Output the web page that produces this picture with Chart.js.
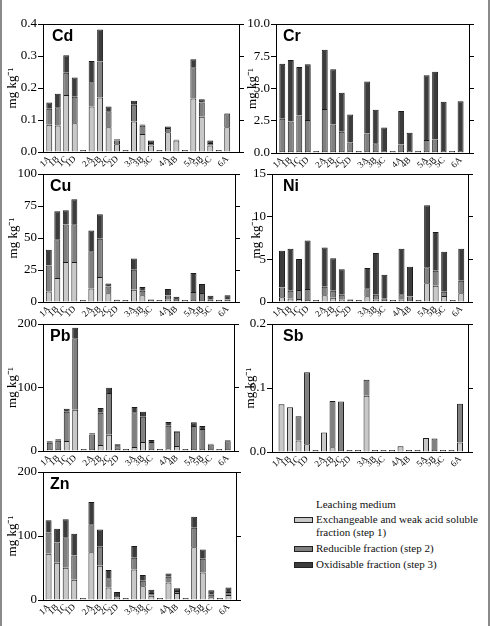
<!DOCTYPE html>
<html>
<head>
<meta charset="utf-8">
<title>Leaching fractions</title>
<script src="https://cdn.jsdelivr.net/npm/chart.js@4.4.1/dist/chart.umd.min.js"></script>
<style>
  html, body { margin: 0; padding: 0; background: #fff; }
  body { width: 491px; height: 626px; position: relative; overflow: hidden;
         font-family: "Liberation Serif", "Times New Roman", serif; color: #111; }
  .panel { position: absolute; }
  .edge { position: absolute; top: 0; bottom: 0; width: 2px; background: #8a8a8a; }
  #legend { position: absolute; left: 294px; top: 498px; font-size: 11px; line-height: 13px; }
  .lg-head { margin-left: 22px; }
  .lg-row { display: flex; align-items: flex-start; margin-top: 2px; }
  .lg-row + .lg-row { margin-top: 3px; }
  .sw { width: 17px; height: 4px; border: 1px solid #222; margin: 4px 3px 0 0; flex: none; }
  .lg-text { width: 168px; }
</style>
</head>
<body>
<div class="edge" style="left:0"></div>
<div class="edge" style="left:488px"></div>
<div id="legend"></div>

<script>
'use strict';

/* ===== Data ===== */
// sampling sites; empty strings are the spacer slots between the groups
const SITES = ['1A', '1B', '1C', '1D', '', '2A', '2B', '2C', '2D', '', '3A', '3B', '3C', '',
               '4A', '4B', '', '5A', '5B', '5C', '', '6A'];
const LEGEND_TITLE = 'Leaching medium';
const FRACTIONS = [
  'Exchangeable and weak acid soluble fraction (step 1)',
  'Reducible fraction (step 2)',
  'Oxidisable fraction (step 3)'
];
const UNIT = 'mg kg\u207B\u00B9';

const CD_STEP1 = [0.085, 0.083, 0.178, 0.090, 0, 0.142, 0.170, 0.077, 0.024, 0, 0.095, 0.056, 0.020, 0, 0.062, 0.036, 0, 0.167, 0.110, 0.020, 0, 0.077];
const CD_STEP2 = [0.050, 0.057, 0.070, 0.083, 0, 0.076, 0.113, 0.050, 0.012, 0, 0.053, 0.026, 0.008, 0, 0.013, 0.002, 0, 0.098, 0.045, 0.008, 0, 0.043];
const CD_STEP3 = [0.020, 0.042, 0.054, 0.060, 0, 0.066, 0.100, 0.015, 0.004, 0, 0.012, 0.004, 0.008, 0, 0.005, 0.001, 0, 0.025, 0.010, 0.008, 0, 0.001];

const CR_STEP1 = [0, 0, 0, 0, 0, 0, 0, 0, 0, 0, 0, 0, 0, 0, 0, 0, 0, 0, 0, 0, 0, 0];
const CR_STEP2 = [2.50, 2.28, 2.75, 2.40, 0, 3.25, 2.05, 1.50, 0.65, 0, 1.35, 0.60, 0, 0, 0.50, 0, 0, 0.85, 0.90, 0, 0, 0];
const CR_STEP3 = [4.27, 4.77, 3.77, 4.32, 0, 4.60, 4.28, 3.02, 2.17, 0, 4.03, 2.60, 1.82, 0, 2.60, 1.42, 0, 5.03, 5.25, 3.82, 0, 3.85];

const CU_STEP1 = [8.3, 18.7, 31.2, 31.2, 0, 10.6, 19.5, 6.8, 1.6, 0, 9.6, 5.2, 1.5, 0, 1.8, 0.5, 0, 1.5, 1.3, 0.3, 0, 0.2];
const CU_STEP2 = [20.3, 30.4, 29.3, 29.6, 0, 29.1, 29.9, 5.4, 0.1, 0, 15.6, 3.6, 0.3, 0, 3.2, 0.8, 0, 6.3, 5.5, 0.5, 0, 0.3];
const CU_STEP3 = [12.2, 21.8, 11.2, 19.5, 0, 16.1, 19.2, 2.3, 0.1, 0, 8.8, 2.9, 0.3, 0, 5.1, 1.8, 0, 14.8, 7.0, 2.8, 0, 3.4];

const NI_STEP1 = [0.55, 0.40, 0.35, 0.23, 0, 0.78, 0.50, 0.27, 0.02, 0, 0.66, 0.27, 0.20, 0, 0.27, 0.20, 0, 2.19, 1.91, 0.70, 0, 1.02];
const NI_STEP2 = [1.15, 0.93, 1.05, 1.29, 0, 1.02, 0.83, 0.59, 0.02, 0, 0.94, 0.59, 0.15, 0, 0.63, 0.40, 0, 1.87, 1.76, 0.51, 0, 1.48];
const NI_STEP3 = [4.30, 4.92, 3.64, 5.67, 0, 4.60, 3.79, 2.97, 0.08, 0, 2.38, 4.88, 2.81, 0, 5.35, 3.50, 0, 7.27, 4.53, 4.69, 0, 3.75];

const PB_STEP1 = [1.0, 2.0, 15.7, 65.1, 0, 2.0, 9.4, 25.7, 2.0, 0, 6.3, 14.2, 1.0, 0, 4.2, 7.9, 0, 1.0, 1.0, 0.5, 0, 0.5];
const PB_STEP2 = [10.0, 13.0, 46.3, 112.3, 0, 22.7, 51.0, 65.6, 4.4, 0, 54.6, 39.8, 11.0, 0, 35.7, 22.5, 0, 36.3, 31.5, 7.0, 0, 12.2];
const PB_STEP3 = [2.1, 2.3, 4.7, 16.8, 0, 2.1, 7.3, 8.4, 3.0, 0, 8.4, 8.0, 3.2, 0, 5.8, 1.1, 0, 5.7, 4.8, 1.4, 0, 1.5];

const SB_STEP1 = [0.0745, 0.0700, 0.0180, 0.0120, 0, 0.0306, 0.0073, 0, 0, 0, 0.0878, 0, 0, 0, 0.0088, 0, 0, 0.0218, 0, 0, 0, 0.0150];
const SB_STEP2 = [0, 0, 0.0380, 0.1127, 0, 0, 0.0722, 0.0758, 0, 0, 0.0249, 0, 0, 0, 0, 0, 0, 0, 0.0180, 0, 0, 0.0603];
const SB_STEP3 = [0, 0, 0, 0, 0, 0, 0, 0, 0, 0, 0, 0, 0, 0, 0, 0, 0, 0, 0, 0, 0, 0];

const ZN_STEP1 = [72.2, 58.2, 50.4, 31.7, 0, 74.8, 53.5, 19.7, 3.6, 0, 47.8, 21.3, 6.8, 0, 27.5, 10.9, 0, 82.6, 43.1, 4.2, 0, 7.8];
const ZN_STEP2 = [33.3, 31.7, 47.8, 37.9, 0, 43.6, 29.6, 14.1, 2.6, 0, 18.2, 8.8, 4.1, 0, 8.9, 3.1, 0, 30.1, 21.3, 4.1, 0, 4.7];
const ZN_STEP3 = [19.2, 21.3, 28.0, 33.8, 0, 34.8, 27.0, 13.0, 6.3, 0, 18.2, 8.9, 5.2, 0, 5.2, 4.2, 0, 17.2, 14.6, 6.8, 0, 7.2];

/* ===== Look ===== */
const COLORS = ['#c8c8c8', '#808080', '#3c3c3c'];
const PAD_TOP = 10;
const X_H = 26;
const RIGHT_W = 8;

// left = canvas left edge, L/R/T/B = plot box, x range in slot units
const PANELS = [
  { name: 'Cd', data: [CD_STEP1, CD_STEP2, CD_STEP3], max: 0.4, step: 0.1, digits: 1, left: 5,   L: 43,  R: 239, T: 24,  B: 152, xMin: -0.74, xMax: 22.39, dx: 9 },
  { name: 'Cr', data: [CR_STEP1, CR_STEP2, CR_STEP3], max: 10,  step: 2.5, digits: 1, left: 245, L: 276, R: 469, T: 24,  B: 153, xMin: -0.74, xMax: 21.99, dx: 7 },
  { name: 'Cu', data: [CU_STEP1, CU_STEP2, CU_STEP3], max: 100, step: 25,  digits: 0, left: 6,   L: 43,  R: 235, T: 174, B: 302, xMin: -0.68, xMax: 21.88, dx: 7 },
  { name: 'Ni', data: [NI_STEP1, NI_STEP2, NI_STEP3], max: 15,  step: 5,   digits: 0, left: 249, L: 272, R: 468, T: 174, B: 302, xMin: -1.17, xMax: 21.79, dx: 11 },
  { name: 'Pb', data: [PB_STEP1, PB_STEP2, PB_STEP3], max: 200, step: 100, digits: 0, left: 5,   L: 43,  R: 234, T: 324, B: 451, xMin: -0.80, xMax: 21.74, dx: 7 },
  { name: 'Sb', data: [SB_STEP1, SB_STEP2, SB_STEP3], max: 0.2, step: 0.1, digits: 1, left: 243, L: 272, R: 468, T: 324, B: 452, xMin: -1.12, xMax: 21.94, dx: 11 },
  { name: 'Zn', data: [ZN_STEP1, ZN_STEP2, ZN_STEP3], max: 200, step: 100, digits: 0, left: 5,   L: 43,  R: 236, T: 472, B: 600, xMin: -0.65, xMax: 21.88, dx: 7 }
];

Chart.defaults.font.family = '"Liberation Serif", "Times New Roman", serif';
Chart.defaults.font.size = 13;
Chart.defaults.color = '#000';

/* ===== Plot frame: top border + element name ===== */
const panelFrame = {
  id: 'panelFrame',
  afterDatasetsDraw(chart, args, opts) {
    const { ctx, chartArea: a } = chart;
    ctx.save();
    ctx.strokeStyle = '#000';
    ctx.lineWidth = 1;
    ctx.beginPath();
    ctx.moveTo(a.left, Math.round(a.top) + 0.5);
    ctx.lineTo(a.right, Math.round(a.top) + 0.5);
    ctx.stroke();
    ctx.fillStyle = '#000';
    ctx.font = 'bold 16px "Liberation Sans", Arial, sans-serif';
    ctx.textBaseline = 'alphabetic';
    ctx.fillText(opts.text, a.left + opts.dx, a.top + 17);
    ctx.restore();
  }
};

function makePanel(p) {
  const top = p.T - PAD_TOP;
  const width = p.R + RIGHT_W - p.left;
  const height = p.B + X_H - top;
  const yW = p.L - p.left;

  const box = document.createElement('div');
  box.className = 'panel';
  box.style.left = p.left + 'px';
  box.style.top = top + 'px';
  box.style.width = width + 'px';
  box.style.height = height + 'px';
  const canvas = document.createElement('canvas');
  box.appendChild(canvas);
  document.body.appendChild(box);

  const axisGrid = { drawOnChartArea: false, drawTicks: true, tickLength: 5, color: '#000' };

  new Chart(canvas, {
    type: 'bar',
    data: {
      labels: SITES.map((_, i) => i),
      datasets: FRACTIONS.map((label, k) => ({
        label,
        data: p.data[k],
        backgroundColor: COLORS[k],
        borderColor: '#1a1a1a',
        borderWidth: 1,
        minBarLength: k === 0 ? 2 : 0,
        barPercentage: 0.7,
        categoryPercentage: 1
      }))
    },
    options: {
      responsive: true,
      maintainAspectRatio: false,
      animation: false,
      layout: { padding: { top: PAD_TOP, left: 0, right: 0, bottom: 0 } },
      plugins: {
        legend: { display: false },
        tooltip: { enabled: false },
        panelFrame: { text: p.name, dx: p.dx }
      },
      scales: {
        x: {
          type: 'linear', stacked: true, min: p.xMin, max: p.xMax, offset: false,
          grid: { display: true, drawOnChartArea: false, drawTicks: false, offset: false },
          border: { color: '#000', width: 1 },
          ticks: {
            stepSize: 1, autoSkip: false, includeBounds: false,
            maxRotation: 45, minRotation: 45, padding: 2,
            font: { size: 9 },
            callback: v => SITES[v] || ''
          },
          afterFit: s => { s.height = X_H; }
        },
        y: {
          stacked: true, min: 0, max: p.max,
          grid: axisGrid,
          border: { color: '#000', width: 1 },
          ticks: { stepSize: p.step, padding: 1, callback: v => v.toFixed(p.digits) },
          title: { display: true, text: UNIT, padding: 0, font: { size: 13 } },
          afterFit: s => { s.width = yW; }
        },
        y2: {
          position: 'right', min: 0, max: p.max,
          grid: axisGrid,
          border: { color: '#000', width: 1 },
          ticks: { display: false, stepSize: p.step },
          afterFit: s => { s.width = RIGHT_W; }
        }
      }
    },
    plugins: [panelFrame]
  });
}

PANELS.forEach(makePanel);

/* ===== Legend ===== */
document.getElementById('legend').innerHTML =
  '<div class="lg-head">' + LEGEND_TITLE + '</div>' +
  FRACTIONS.map((f, k) =>
    `<div class="lg-row"><span class="sw" style="background:${COLORS[k]}"></span><span class="lg-text">${f}</span></div>`
  ).join('');
</script>
</body>
</html>
